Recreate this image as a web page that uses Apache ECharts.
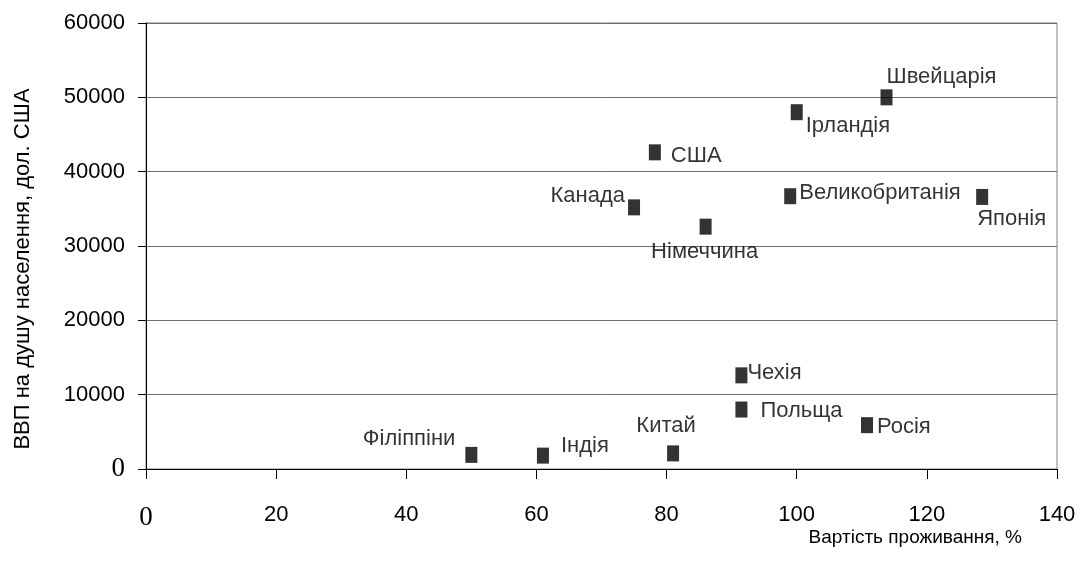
<!DOCTYPE html>
<html>
<head>
<meta charset="utf-8">
<script src="https://cdn.jsdelivr.net/npm/echarts@6/dist/echarts.min.js"></script>
<style>
  html, body { margin: 0; padding: 0; background: #ffffff; }
  #chart { width: 1081px; height: 573px; }
</style>
</head>
<body>
<div id="chart"></div>
<script>
// Countries: cost of living (% of reference) vs GDP per capita (USD)
const countries = ['Філіппіни', 'Індія', 'Китай', 'Чехія', 'Польща', 'Росія',
  'Канада', 'Німеччина', 'Великобританія', 'США', 'Ірландія', 'Швейцарія', 'Японія'];
const costOfLiving = [50, 61, 81, 91.5, 91.5, 110.8, 75, 86, 99, 78.2, 100, 113.8, 128.5];
const gdpPerCapita = [1900, 1800, 2100, 12600, 8000, 5900, 35200, 32600, 36700, 42600, 48000, 50000, 36600];

// Axis scales
const xTickValues = [0, 20, 40, 60, 80, 100, 120, 140];
const yTickValues = [0, 10000, 20000, 30000, 40000, 50000, 60000];

// Label placement next to each marker: alignment and [dx, dy] from marker centre
const labelAlign = ['right', 'left', 'center', 'left', 'left', 'left',
  'right', 'center', 'left', 'left', 'left', 'left', 'left'];
const labelOffset = [[-16, -16], [18, -10], [-7, -27], [6, -2], [19, 1], [10, 2],
  [-9, -11], [-1, 25], [9, -3], [16, 4], [9, 14], [0, -20], [-5, 22]];

const FONT = "'Liberation Sans', Arial, sans-serif";
const SERIF = "'Liberation Serif', 'Times New Roman', serif";

const points = countries.map((name, i) => ({
  name: name,
  value: [costOfLiving[i], gdpPerCapita[i]],
  label: { align: labelAlign[i], offset: labelOffset[i] }
}));

const zeroLabel = v => (v === 0 ? '{z|0}' : String(v));

const chart = echarts.init(document.getElementById('chart'), null, { renderer: 'canvas' });
chart.setOption({
  animation: false,
  backgroundColor: '#ffffff',
  grid: {
    left: 146, right: 24, top: 23, bottom: 104,
    show: true, borderColor: '#808080', borderWidth: 1, backgroundColor: 'transparent'
  },
  xAxis: {
    type: 'value',
    min: xTickValues[0],
    max: xTickValues[xTickValues.length - 1],
    interval: xTickValues[1] - xTickValues[0],
    axisLine: { show: true, onZero: false, lineStyle: { color: '#000', width: 1 } },
    axisTick: { show: true, length: 10, lineStyle: { color: '#000' } },
    splitLine: { show: false },
    axisLabel: {
      margin: 35, color: '#000', fontFamily: FONT, fontSize: 22,
      formatter: zeroLabel,
      rich: { z: { fontFamily: SERIF, fontSize: 27, color: '#000' } }
    }
  },
  yAxis: {
    type: 'value',
    min: yTickValues[0],
    max: yTickValues[yTickValues.length - 1],
    interval: yTickValues[1] - yTickValues[0],
    axisLine: { show: true, onZero: false, lineStyle: { color: '#000', width: 1 } },
    axisTick: { show: true, length: 8, lineStyle: { color: '#000' } },
    splitLine: { show: true, lineStyle: { color: '#6e6e6e', width: 1 } },
    axisLabel: {
      margin: 21, color: '#000', fontFamily: FONT, fontSize: 22,
      formatter: zeroLabel,
      rich: { z: { fontFamily: SERIF, fontSize: 27, color: '#000' } }
    }
  },
  graphic: [
    {
      type: 'text', x: 1022, y: 538,
      style: {
        text: 'Вартість проживання, %', fill: '#000',
        font: "19px " + FONT, textAlign: 'right', textVerticalAlign: 'middle'
      }
    },
    {
      type: 'text', x: 23, y: 269, rotation: Math.PI / 2,
      style: {
        text: 'ВВП на душу населення, дол. США', fill: '#000',
        font: "22px " + FONT, textAlign: 'center', textVerticalAlign: 'middle'
      }
    }
  ],
  series: [{
    type: 'scatter',
    symbol: 'rect',
    symbolSize: [12, 16],
    itemStyle: { color: '#000' },
    label: {
      show: true, position: 'inside', verticalAlign: 'middle',
      color: '#000', fontFamily: FONT, fontSize: 22,
      formatter: p => p.name
    },
    emphasis: { disabled: true },
    data: points
  }]
});
</script>
</body>
</html>
